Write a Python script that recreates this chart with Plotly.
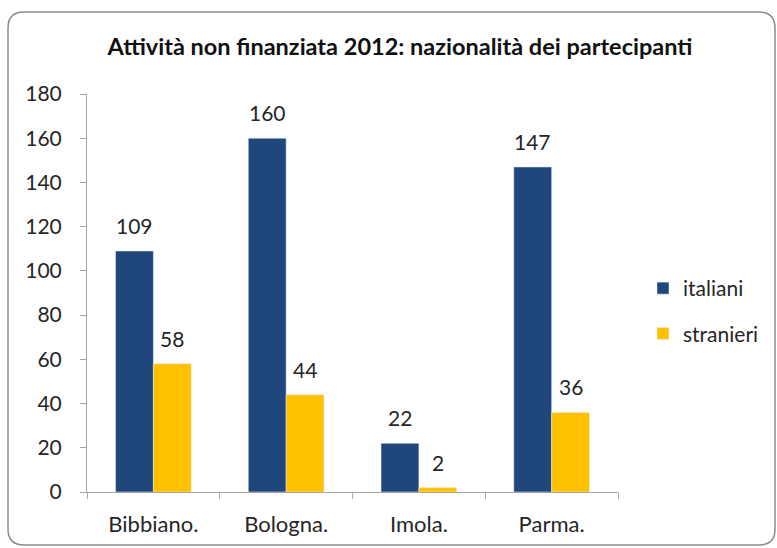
import plotly.graph_objects as go

# Participants by nationality, unfunded activity 2012
sedi = ["Bibbiano.", "Bologna.", "Imola.", "Parma."]
italiani = [109, 160, 22, 147]
stranieri = [58, 44, 2, 36]
y_ticks = [0, 20, 40, 60, 80, 100, 120, 140, 160, 180]

BLU = "#1F477B"
GIALLO = "#FFC000"
TESTO = "#262626"
FONT = "Lato"

W, H = 777, 548
L, R, T, B = 87, 159, 94, 56
pw, ph = W - L - R, H - T - B
BAR_PX = 38  # width of one bar in pixels (used for label offsets)

fig = go.Figure()
fig.add_trace(go.Bar(
    x=sedi, y=italiani, name="italiani", marker_color=BLU,
    legendgroup="a",
))
fig.add_trace(go.Bar(
    x=sedi, y=stranieri, name="stranieri", marker_color=GIALLO,
    legendgroup="b",
))

# value labels above each bar
annotations = []
for serie, shift in ((italiani, -BAR_PX / 2), (stranieri, BAR_PX / 2)):
    for sede, v in zip(sedi, serie):
        annotations.append(dict(
            x=sede, y=v, xref="x", yref="y", text=str(v), showarrow=False,
            xanchor="center", yanchor="bottom", xshift=shift, yshift=11,
            font=dict(size=21, color=TESTO, family=FONT),
        ))


# rounded outer frame, built in paper units from pixel offsets
def px(xp):
    return (xp - L) / pw


def py(yp):
    return (H - B - yp) / ph


x0, x1, y0, y1, r = 8, 775, 12, 545, 16
path = (
    f"M {px(x0 + r)},{py(y0)} L {px(x1 - r)},{py(y0)} "
    f"Q {px(x1)},{py(y0)} {px(x1)},{py(y0 + r)} "
    f"L {px(x1)},{py(y1 - r)} Q {px(x1)},{py(y1)} {px(x1 - r)},{py(y1)} "
    f"L {px(x0 + r)},{py(y1)} Q {px(x0)},{py(y1)} {px(x0)},{py(y1 - r)} "
    f"L {px(x0)},{py(y0 + r)} Q {px(x0)},{py(y0)} {px(x0 + r)},{py(y0)} Z"
)

fig.update_layout(
    width=W, height=H,
    margin=dict(l=L, r=R, t=T, b=B),
    paper_bgcolor="white", plot_bgcolor="white",
    barmode="group", bargap=0.43, bargroupgap=0,
    font=dict(family=FONT, color=TESTO, size=18),
    title=dict(
        text="<b>Attività non finanziata 2012: nazionalità dei partecipanti</b>",
        x=400 / W, xref="container", xanchor="center",
        y=1 - 47 / H, yanchor="middle",
        font=dict(size=23.5, family=FONT, color="#111111"),
    ),
    annotations=annotations,
    legend=dict(
        x=px(643), y=py(288 - 20), xanchor="left", yanchor="top",
        font=dict(size=21, family=FONT, color=TESTO),
        tracegroupgap=15, traceorder="grouped",
        itemwidth=30,
    ),
    shapes=[dict(
        type="path", path=path, xref="paper", yref="paper",
        line=dict(color="#8C8C8C", width=1.5), layer="below",
    )],
    xaxis=dict(
        showline=True, linecolor="#A6A6A6", linewidth=1,
        ticks="outside", tickson="boundaries", ticklen=6, tickcolor="#A6A6A6",
        tickfont=dict(size=22, color=TESTO, family=FONT),
        ticklabelstandoff=13,
        showgrid=False, zeroline=False,
    ),
    yaxis=dict(
        range=[0, 180], tickvals=y_ticks,
        showline=True, linecolor="#A6A6A6", linewidth=1,
        ticks="outside", ticklen=6, tickcolor="#A6A6A6",
        tickfont=dict(size=21, color=TESTO, family=FONT),
        ticklabelstandoff=14,
        showgrid=False, zeroline=False,
    ),
)

fig.write_html("out.html")
